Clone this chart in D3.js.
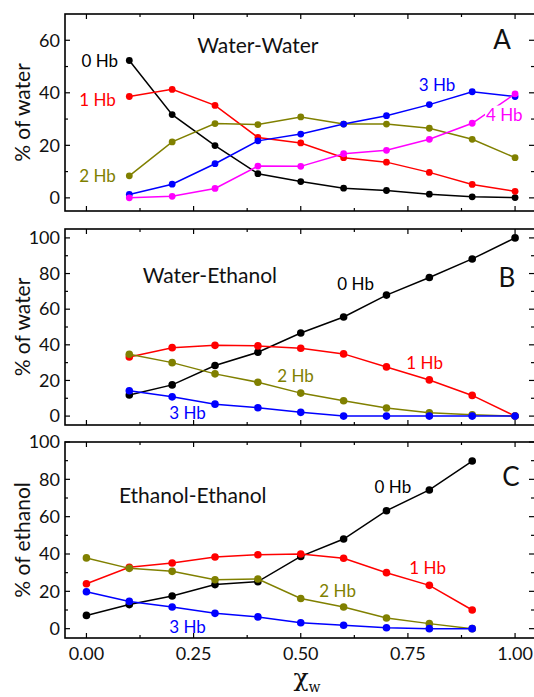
<!DOCTYPE html>
<html>
<head>
<meta charset="utf-8">
<script src="https://cdn.jsdelivr.net/npm/d3@7"></script>
<style>
  html, body { margin: 0; padding: 0; background: #fff; }
  svg { display: block; }
  text { font-family: Lato, "Open Sans", sans-serif; }
</style>
</head>
<body>
<svg id="chart" width="534" height="697"></svg>
<script>
// Water mole fraction for each panel
const xWaterPanels = [0.1, 0.2, 0.3, 0.4, 0.5, 0.6, 0.7, 0.8, 0.9, 1.0];
const xEthanolPanel = [0.0, 0.1, 0.2, 0.3, 0.4, 0.5, 0.6, 0.7, 0.8, 0.9];

// A: water-water H-bond distribution (% of water)
const wwHb0 = [52.3, 31.7, 19.9, 9.2, 6.2, 3.7, 2.8, 1.4, 0.4, 0.1];
const wwHb1 = [38.6, 41.3, 35.2, 23.0, 20.9, 15.3, 13.6, 9.7, 5.1, 2.5];
const wwHb2 = [8.4, 21.3, 28.3, 27.9, 30.8, 28.1, 28.1, 26.5, 22.3, 15.3];
const wwHb3 = [1.3, 5.2, 13.0, 21.7, 24.3, 28.1, 31.3, 35.5, 40.4, 38.6];
const wwHb4 = [0.0, 0.6, 3.6, 12.1, 12.0, 16.8, 18.1, 22.3, 28.4, 39.6];

// B: water-ethanol H-bond distribution (% of water)
const weHb0 = [11.8, 17.5, 28.4, 35.8, 46.6, 55.6, 67.9, 77.8, 88.2, 100.0];
const weHb1 = [33.2, 38.4, 39.7, 39.4, 38.1, 34.9, 27.6, 20.3, 11.6, 0.0];
const weHb2 = [34.7, 30.0, 23.7, 19.0, 12.9, 8.6, 4.5, 1.9, 0.7, 0.0];
const weHb3 = [14.2, 10.8, 6.7, 4.7, 2.1, 0.0, 0.0, 0.0, 0.0, 0.0];

// C: ethanol-ethanol H-bond distribution (% of ethanol)
const eeHb0 = [7.1, 12.9, 17.5, 23.6, 25.2, 38.7, 48.0, 63.2, 74.3, 89.8];
const eeHb1 = [24.1, 32.9, 35.2, 38.4, 39.6, 40.0, 37.7, 30.0, 23.2, 10.0];
const eeHb2 = [37.9, 32.3, 30.7, 26.2, 26.6, 16.2, 11.6, 5.7, 2.7, 0.0];
const eeHb3 = [19.8, 14.6, 11.6, 8.2, 6.3, 3.2, 1.8, 0.5, 0.0, 0.0];

// Tick values
const xTicksMajor = [0, 0.25, 0.5, 0.75, 1.0];
const xTickLabels = ["0.00", "0.25", "0.50", "0.75", "1.00"];
const xTicksMinor = [0.125, 0.375, 0.625, 0.875];
const yTicksA = [0, 20, 40, 60];
const yTicksB = [0, 20, 40, 60, 80, 100];
const yTicksC = [0, 20, 40, 60, 80, 100];

const colors = { hb0: "#000000", hb1: "#ff0000", hb2: "#808000", hb3: "#0000ff", hb4: "#ff00ff" };

const panels = [
  {
    top: 14, bottom: 211, domain: [-5, 70], yTicks: yTicksA, yTitle: "% of water",
    letter: "A", letterPos: [502, 40], title: "Water-Water", titlePos: [0.40, 58], dotR: 3.4,
    series: [
      { x: xWaterPanels, y: wwHb0, c: colors.hb0 },
      { x: xWaterPanels, y: wwHb1, c: colors.hb1 },
      { x: xWaterPanels, y: wwHb2, c: colors.hb2 },
      { x: xWaterPanels, y: wwHb3, c: colors.hb3 },
      { x: xWaterPanels, y: wwHb4, c: colors.hb4 }
    ],
    labels: [
      { t: "0 Hb", x: 0.031, y: 52, c: colors.hb0 },
      { t: "1 Hb", x: 0.026, y: 37.3, c: colors.hb1 },
      { t: "2 Hb", x: 0.026, y: 8.4, c: colors.hb2 },
      { t: "3 Hb", x: 0.818, y: 43, c: colors.hb3 },
      { t: "4 Hb", x: 0.975, y: 31.7, c: colors.hb4, bg: true }
    ]
  },
  {
    top: 229, bottom: 425, domain: [-5, 105], yTicks: yTicksB, yTitle: "% of water",
    letter: "B", letterPos: [507, 278], title: "Water-Ethanol", titlePos: [0.288, 79], dotR: 3.8,
    series: [
      { x: xWaterPanels, y: weHb0, c: colors.hb0 },
      { x: xWaterPanels, y: weHb1, c: colors.hb1 },
      { x: xWaterPanels, y: weHb2, c: colors.hb2 },
      { x: xWaterPanels, y: weHb3, c: colors.hb3 }
    ],
    labels: [
      { t: "0 Hb", x: 0.628, y: 74, c: colors.hb0 },
      { t: "1 Hb", x: 0.789, y: 30, c: colors.hb1 },
      { t: "2 Hb", x: 0.488, y: 22.5, c: colors.hb2 },
      { t: "3 Hb", x: 0.236, y: 1.5, c: colors.hb3 }
    ]
  },
  {
    top: 442, bottom: 638, domain: [-5, 100], yTicks: yTicksC, yTitle: "% of ethanol",
    letter: "C", letterPos: [511, 477], title: "Ethanol-Ethanol", titlePos: [0.248, 71], dotR: 3.8,
    series: [
      { x: xEthanolPanel, y: eeHb0, c: colors.hb0 },
      { x: xEthanolPanel, y: eeHb1, c: colors.hb1 },
      { x: xEthanolPanel, y: eeHb2, c: colors.hb2 },
      { x: xEthanolPanel, y: eeHb3, c: colors.hb3 }
    ],
    labels: [
      { t: "0 Hb", x: 0.715, y: 76, c: colors.hb0 },
      { t: "1 Hb", x: 0.796, y: 32.4, c: colors.hb1 },
      { t: "2 Hb", x: 0.586, y: 20, c: colors.hb2 },
      { t: "3 Hb", x: 0.236, y: 0.8, c: colors.hb3 }
    ]
  }
];

const svg = d3.select("#chart");
const x = d3.scaleLinear().domain([-0.05, 1.05]).range([65, 536.5]);
const left = 65, right = 536.5;

panels.forEach((p, i) => {
  const y = d3.scaleLinear().domain(p.domain).range([p.bottom, p.top]);
  const g = svg.append("g");

  // y ticks: majors labelled on the left, minors midway; mirrored on the right
  const yMinor = p.yTicks.slice(0, -1).map((v, k) => (v + p.yTicks[k + 1]) / 2);
  const tickG = g.append("g").attr("stroke", "#000").attr("stroke-width", 1.2);
  p.yTicks.forEach(v => {
    tickG.append("line").attr("x1", left).attr("x2", left + 5).attr("y1", y(v)).attr("y2", y(v));
    tickG.append("line").attr("x1", 534).attr("x2", 529).attr("y1", y(v)).attr("y2", y(v));
  });
  yMinor.forEach(v => {
    tickG.append("line").attr("x1", left).attr("x2", left + 3).attr("y1", y(v)).attr("y2", y(v));
    tickG.append("line").attr("x1", 534).attr("x2", 531).attr("y1", y(v)).attr("y2", y(v));
  });
  // x ticks on top and bottom edges
  xTicksMajor.concat(xTicksMinor).forEach(v => {
    const len = xTicksMajor.includes(v) ? 5 : 3;
    tickG.append("line").attr("x1", x(v)).attr("x2", x(v)).attr("y1", p.bottom).attr("y2", p.bottom - len);
    tickG.append("line").attr("x1", x(v)).attr("x2", x(v)).attr("y1", p.top).attr("y2", p.top + len);
  });

  g.append("g").selectAll("text").data(p.yTicks).join("text")
    .attr("x", 60).attr("y", d => y(d)).attr("dy", "0.35em")
    .attr("text-anchor", "end").attr("font-size", 18).attr("fill", "#111")
    .text(d => d);

  // y-axis title
  g.append("text")
    .attr("transform", `translate(30,${(p.top + p.bottom) / 2}) rotate(-90)`)
    .attr("text-anchor", "middle").attr("font-size", 21).attr("fill", "#111")
    .text(p.yTitle);

  // series
  const line = d3.line().x(d => x(d[0])).y(d => y(d[1]));
  p.series.forEach(s => {
    const pts = s.x.map((v, k) => [v, s.y[k]]);
    g.append("path").datum(pts).attr("d", line)
      .attr("fill", "none").attr("stroke", s.c).attr("stroke-width", 1.5);
    g.append("g").selectAll("circle").data(pts).join("circle")
      .attr("cx", d => x(d[0])).attr("cy", d => y(d[1])).attr("r", p.dotR).attr("fill", s.c);
  });

  // series labels
  p.labels.forEach(l => {
    const t = g.append("text").attr("x", x(l.x)).attr("y", y(l.y)).attr("dy", "0.35em")
      .attr("text-anchor", "middle").attr("font-size", 17).attr("fill", l.c).text(l.t);
    if (l.bg) {
      const b = t.node().getBBox();
      g.insert("rect", () => t.node()).attr("x", b.x - 1).attr("y", b.y + 2)
        .attr("width", b.width + 2).attr("height", b.height - 4).attr("fill", "#fff");
    }
  });

  // panel title and letter
  g.append("text").attr("x", x(p.titlePos[0])).attr("y", y(p.titlePos[1])).attr("dy", "0.35em")
    .attr("text-anchor", "middle").attr("font-size", 21).attr("fill", "#111").text(p.title);
  g.append("text").attr("x", p.letterPos[0]).attr("y", p.letterPos[1]).attr("dy", "0.35em")
    .attr("text-anchor", "middle").attr("font-size", 26).attr("fill", "#111").text(p.letter);

  // frame
  g.append("rect").attr("x", left).attr("y", p.top).attr("width", right - left)
    .attr("height", p.bottom - p.top).attr("fill", "none").attr("stroke", "#000").attr("stroke-width", 1.6);

  // x tick labels on the bottom panel
  if (i === panels.length - 1) {
    g.append("g").selectAll("text").data(xTicksMajor).join("text")
      .attr("x", d => x(d)).attr("y", 660).attr("text-anchor", "middle")
      .attr("font-size", 18).attr("fill", "#111")
      .text((d, k) => xTickLabels[k]);
  }
});

// x-axis title: chi with subscript w
const xt = svg.append("text").attr("x", 307).attr("y", 686).attr("text-anchor", "middle")
  .style("font-family", "'DejaVu Serif', 'Liberation Serif', serif").attr("fill", "#111");
xt.append("tspan").attr("font-size", 25).text("χ");
xt.append("tspan").attr("font-size", 14).attr("dy", 6).text("w");
</script>
</body>
</html>
